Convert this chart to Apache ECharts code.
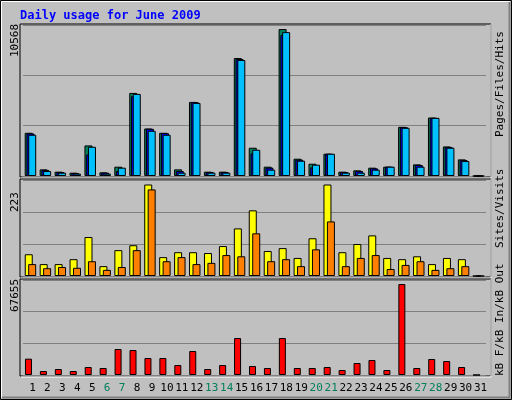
<!DOCTYPE html>
<html><head><meta charset="utf-8">
<script src="https://cdn.jsdelivr.net/npm/echarts@6/dist/echarts.min.js"></script>
<style>html,body{margin:0;padding:0;background:#c0c0c0}#c{width:512px;height:400px}</style>
</head><body><div id="c"></div>
<script>
var days = ['1','2','3','4','5','6','7','8','9','10','11','12','13','14','15','16','17','18','19','20','21','22','23','24','25','26','27','28','29','30','31'];
var weekend = ['6','7','13','14','20','21','27','28'];
var hits  = [3108,478,311,239,2199,263,669,5975,3418,3108,478,5330,311,311,8485,2032,669,10568,1243,884,1601,311,406,598,669,3537,837,4206,2127,1195,0];
var files = [3060,430,287,215,1554,239,358,5736,3394,3083,358,5306,287,287,8413,1625,598,10134,1171,621,1601,287,358,550,669,3513,789,4182,2079,1147,0];
var pages = [2965,358,239,167,2103,167,598,5903,3250,2965,239,5258,239,239,8341,1888,454,10349,1099,813,1601,239,239,454,669,3465,669,4182,2032,1076,0];
var visits = [53,29,29,41,95,24,63,75,223,46,58,58,56,73,116,160,61,68,44,92,223,58,78,99,44,41,48,29,44,41,0];
var sites  = [29,19,22,20,36,15,22,63,211,36,46,29,32,51,48,104,36,41,24,65,133,24,44,51,17,27,36,15,19,24,0];
var kbytes = [12142,2974,4460,2974,5947,5204,19328,18585,12638,12638,7434,17842,4460,7434,27506,6691,5204,27506,5204,5204,5947,3717,8921,11151,3717,67655,5204,11895,10408,5947,0];
var maxLabels = ['10568','223','67655'];

var chart = echarts.init(document.getElementById('c'));
var F = 'DejaVu Sans Mono';
var grids = [{left:23,right:26,top:25,height:151},{left:23,right:26,top:180,height:96},{left:23,right:26,top:280,height:95}];
function xa(i, show){return {type:'category',gridIndex:i,data:days,boundaryGap:true,
  axisLine:{show:false},axisTick:{show:false},
  axisLabel:{show:show,interval:0,fontFamily:F,fontSize:11,margin:8,padding:[0,0,0,4],
    color:function(v){return weekend.indexOf(v)>=0?'#00805c':'#000';}}};}
function ya(i,max,intv){return {type:'value',gridIndex:i,min:0,max:max,interval:intv,axisLabel:{show:false},
  axisLine:{show:false},axisTick:{show:false},splitLine:{lineStyle:{color:'#808080',width:1}}};}
function bar(name,data,color,xi,w,gap){return {name:name,type:'bar',data:data,xAxisIndex:xi,yAxisIndex:xi,barWidth:w,barGap:gap,
  itemStyle:{color:color,borderColor:'#000',borderWidth:1},silent:true,animation:false};}
function panel(y,h){return [
  {type:'rect',shape:{x:20,y:y,width:471,height:h},style:{fill:'none',stroke:'#000',lineWidth:1},z:-1},
  {type:'polyline',shape:{points:[[21,y+h+1],[491,y+h+1],[491,y]]},style:{stroke:'#fff',lineWidth:1,fill:'none'},z:-1}];}
var rt = {fontFamily:F,fontSize:11};
function vtext(x,y,text,rich){return {type:'text',x:x,y:y,rotation:Math.PI/2,style:{text:text,rich:rich,font:'11px "'+F+'"',textAlign:'left',textVerticalAlign:'middle',fill:'#000'},z:10};}
var g = [].concat(
  [{type:'rect',shape:{x:0.5,y:0.5,width:511,height:399},style:{fill:'none',stroke:'#000',lineWidth:1}},
   {type:'rect',shape:{x:1.5,y:1.5,width:508,height:396},style:{fill:'none',stroke:'#fff',lineWidth:1}},
   {type:'polyline',shape:{points:[[2,397.5],[509.5,397.5],[509.5,2]]},style:{stroke:'#808080',lineWidth:2,fill:'none'}},
   {type:'text',x:20,y:16,style:{text:'Daily usage for June 2009',font:'bold 12px "'+F+'"',fill:'#0000ff',textVerticalAlign:'middle'}}],
  panel(24,153),panel(179,98),panel(279,97),
  [vtext(15,57,maxLabels[0]),vtext(15,212,maxLabels[1]),vtext(15,312,maxLabels[2]),
   vtext(500,137,'{p|Pages}{s|/}{f|Files}{s|/}{h|Hits}',{p:Object.assign({color:'#00c0ff'},rt),s:Object.assign({color:'#000'},rt),f:Object.assign({color:'#0000ff'},rt),h:Object.assign({color:'#00805c'},rt)}),
   vtext(500,248,'{p|Sites}{s|/}{f|Visits}',{p:Object.assign({color:'#ff8000'},rt),s:Object.assign({color:'#000'},rt),f:Object.assign({color:'#ffff00'},rt)}),
   vtext(500,376,'{p|kB F}{s|/}{f|kB In}{s|/}{h|kB Out}',{p:Object.assign({color:'#ff0000'},rt),s:Object.assign({color:'#000'},rt),f:Object.assign({color:'#0000ff'},rt),h:Object.assign({color:'#00805c'},rt)})]
);
chart.setOption({
  animation:false,backgroundColor:'#c0c0c0',
  grid:grids,
  xAxis:[xa(0,false),xa(1,false),xa(2,true)],
  yAxis:[ya(0,10860,3620),ya(1,234,78),ya(2,70650,23550)],
  series:[
    bar('Hits',hits,'#00805c',0,8,'-78%'),
    bar('Files',files,'#0000ff',0,8,'-78%'),
    bar('Pages',pages,'#00c0ff',0,8,'-78%'),
    bar('Visits',visits,'#ffff00',1,8,'-57%'),
    bar('Sites',sites,'#ff8000',1,8,'-57%'),
    bar('kB F',kbytes,'#ff0000',2,7,'0%'),
    {type:'bar',data:[],xAxisIndex:2,yAxisIndex:2,barWidth:4,barGap:'0%'}
  ],
  graphic:g
});
</script></body></html>
